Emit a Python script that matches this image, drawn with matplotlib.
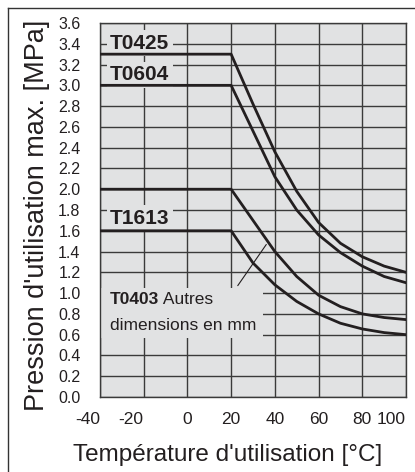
import matplotlib.pyplot as plt
from matplotlib.lines import Line2D
from matplotlib.patches import Rectangle

plt.rcParams['font.family'] = ['Liberation Sans', 'DejaVu Sans']

# Température (°C) et pression max. (MPa)
temps = [-40, 20, 30, 40, 50, 60, 70, 80, 90, 100]
t0425 = [3.3, 3.3, 2.82, 2.36, 1.98, 1.68, 1.48, 1.35, 1.26, 1.2]
t0604 = [3.0, 3.0, 2.56, 2.12, 1.80, 1.56, 1.39, 1.26, 1.16, 1.1]
t0403 = [2.0, 2.0, 1.70, 1.40, 1.16, 0.98, 0.87, 0.80, 0.765, 0.745]
t1613 = [1.6, 1.6, 1.29, 1.08, 0.92, 0.80, 0.71, 0.655, 0.62, 0.60]

xticks = [-40, -20, 0, 20, 40, 60, 80, 100]
yticks = [i * 0.2 for i in range(19)]

bg = '#e1e2e3'
gridc = '#3a3a3a'
ink = '#231f20'

fig = plt.figure(figsize=(4.15, 4.72), dpi=100)
ax = fig.add_axes([100 / 415, 1 - 397 / 472, 306 / 415, 374 / 472])
ax.set_facecolor(bg)

ax.set_xlim(-40, 100)
ax.set_ylim(0, 3.6)
ax.set_xticks(xticks)
ax.set_yticks(yticks)
ax.set_yticklabels([f'{v:.1f}' for v in yticks], fontsize=11.5)
ax.set_xticklabels([str(v) for v in xticks], fontsize=12.5)
for lab, v in zip(ax.get_xticklabels(), xticks):
    if v < 0 or v == 100:
        lab.set_horizontalalignment('right')
ax.tick_params(length=0, colors=ink)
ax.tick_params(axis='y', pad=14)
ax.tick_params(axis='x', pad=11)

ax.set_axisbelow(True)
ax.grid(True, color=gridc, lw=1.0)
for s in ax.spines.values():
    s.set_color(gridc)
    s.set_linewidth(1.0)

for ys in (t0425, t0604, t0403, t1613):
    ax.plot(temps, ys, color=ink, lw=2.0, zorder=3, solid_joinstyle='round')

# étiquettes
box = dict(facecolor=bg, edgecolor='none', pad=2.5)
ax.text(-35.4, 3.405, 'T0425', fontsize=15, weight='bold', color=ink,
        va='center', ha='left', bbox=box, zorder=2)
ax.text(-35.4, 3.10, 'T0604', fontsize=15, weight='bold', color=ink,
        va='center', ha='left', bbox=box, zorder=2)
ax.text(-35.4, 1.72, 'T1613', fontsize=15, weight='bold', color=ink,
        va='center', ha='left', bbox=box, zorder=2)

ax.add_patch(Rectangle((-39.5, 0.565), 74.3, 0.485, facecolor=bg,
                       edgecolor='none', zorder=1))
t = ax.text(-35.4, 0.94, 'T0403', fontsize=12.5, weight='bold', color=ink,
            va='center', ha='left', zorder=4)
ax.annotate(' Autres', xy=(1, 0), xycoords=t, va='bottom', ha='left',
            fontsize=12.5, color=ink, zorder=4)
ax.text(-35.4, 0.69, 'dimensions en mm', fontsize=12.5, color=ink,
        va='center', ha='left', zorder=4)
ax.annotate('', xy=(36.8, 1.49), xytext=(22.3, 1.05),
            arrowprops=dict(arrowstyle='-', color=ink, lw=0.8), zorder=4)

ax.set_xlabel("Température d'utilisation [°C]", fontsize=17.5, color=ink)
ax.xaxis.set_label_coords(0.417, -0.125)
ax.set_ylabel("Pression d'utilisation max. [MPa]", fontsize=19.5, color=ink)
ax.yaxis.set_label_coords(-0.165, 0.485)

# cadre extérieur
fig.add_artist(Line2D([7.5 / 415, 7.5 / 415], [0, 1 - 7.5 / 472],
                      color='#333333', lw=1.0))
fig.add_artist(Line2D([7.5 / 415, 1], [1 - 7.5 / 472, 1 - 7.5 / 472],
                      color='#333333', lw=1.0))

fig.savefig('out.png', dpi=100)
